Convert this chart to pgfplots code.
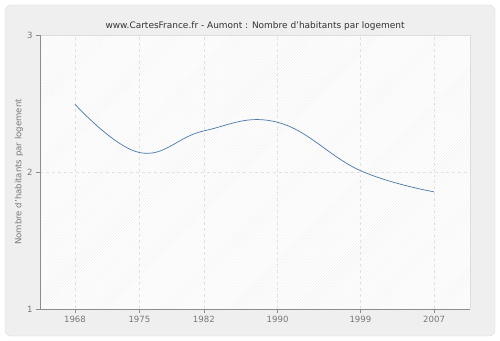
\documentclass[border=0pt]{standalone}
\usepackage{pgfplots}
\pgfplotsset{compat=1.18}
\usepackage{fontspec}
\setmainfont{DejaVu Sans}
\usetikzlibrary{patterns}
\definecolor{bgc}{RGB}{239,239,239}
\definecolor{brd}{RGB}{221,221,221}
\definecolor{axc}{RGB}{140,140,140}
\definecolor{txc}{RGB}{120,120,120}
\definecolor{gridc}{RGB}{225,225,225}
\definecolor{linec}{RGB}{70,120,175}
\begin{document}
\begin{tikzpicture}[x=1bp,y=1bp]
\fill[white] (0,0) rectangle (500,340);
\draw[brd, fill=bgc, rounded corners=6bp] (5,4) rectangle (495,335);
\begin{axis}[
  at={(40bp,31bp)}, anchor=south west,
  scale only axis, width=430bp, height=274bp,
  xmin=1964.2, xmax=2010.9, ymin=1, ymax=3,
  xtick={1968,1975,1982,1990,1999,2007},
  ytick={1,2,3},
  xticklabel style={/pgf/number format/1000 sep=, font=\fontsize{8.6}{10}\selectfont, text=txc},
  yticklabel style={font=\fontsize{8.6}{10}\selectfont, text=txc},
  /pgf/number format/assume math mode=true,
  axis line style={draw=none},
  axis background/.style={fill=white, postaction={pattern=north east lines, pattern color=gray!12}},
  tick align=outside, tick style={axc, thin},
  major tick length=4bp,
  xtick pos=bottom, ytick pos=left,
  grid=major, major grid style={gridc, dashed, line width=0.6pt},
  title={www.CartesFrance.fr - Aumont : Nombre d'habitants par logement},
  title style={font=\fontsize{9}{11}\selectfont, text=black!80, yshift=-5bp},
  ylabel={Nombre d'habitants par logement},
  ylabel style={font=\fontsize{8.6}{10}\selectfont, text=txc, yshift=-3bp},
  clip=false,
]
\draw[brd] (axis cs:1964.2,3) -- (axis cs:2010.9,3) -- (axis cs:2010.9,1);
\draw[axc, thin] (axis cs:1964.2,3) -- (axis cs:1964.2,1) -- (axis cs:2010.9,1);
\addplot[linec, line width=0.7pt, smooth, tension=0.7] coordinates {
 (1968,2.494) (1975,2.142) (1982,2.30) (1990,2.363) (1999,2.01) (2007,1.855)
};
\end{axis}
\end{tikzpicture}
\end{document}
